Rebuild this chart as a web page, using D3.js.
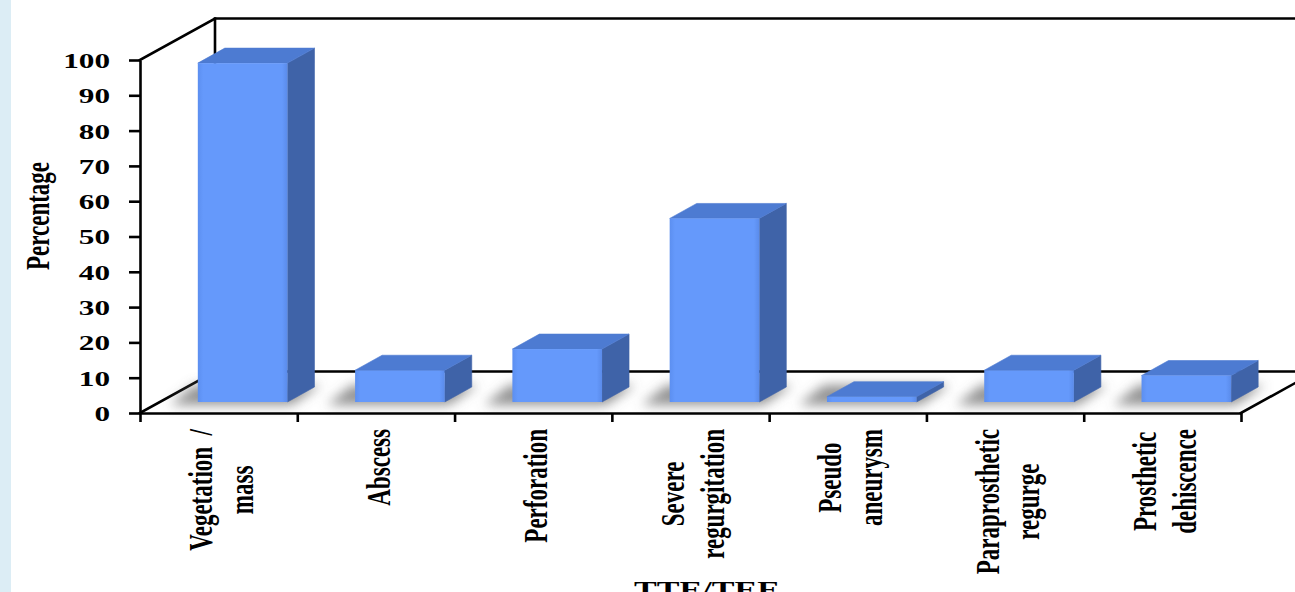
<!DOCTYPE html>
<html>
<head>
<meta charset="utf-8">
<script src="https://cdn.jsdelivr.net/npm/d3@7/dist/d3.min.js"></script>
<style>
  html, body { margin: 0; padding: 0; background: #ffffff; overflow: hidden; }
  svg { display: block; }
  text { font-family: "Liberation Serif", "Times New Roman", serif; font-weight: bold; fill: #000; }
</style>
</head>
<body>
<svg id="chart" width="1295" height="592"></svg>
<script>
// Findings by echocardiography (percent of cases)
const categories = [
  ["Vegetation  /", "mass"],
  ["Abscess"],
  ["Perforation"],
  ["Severe", "regurgitation"],
  ["Pseudo", "aneurysm"],
  ["Paraprosthetic", "regurge"],
  ["Prosthetic", "dehiscence"]
];
const values = [96, 9, 15, 52, 1.5, 9, 7.5];
const yTicks = [0, 10, 20, 30, 40, 50, 60, 70, 80, 90, 100];
const xTitle = "TTE/TEE";
const yTitle = "Percentage";

const svg = d3.select("#chart");
const W = 1295, H = 592;

// plot box (front plane) and oblique depth of the floor/walls
const plotLeft = 140, plotRight = 1241, plotBottom = 413, plotTop = 60;
const depthX = 75, depthY = -41.5;
// bar placement inside the depth
const barFrontX = 24, barFrontY = -11;
const barDepthX = 27, barDepthY = -15;
const textScaleX = 1.42;

const keys = categories.map((c, i) => i);
const x = d3.scaleBand().domain(keys).range([plotLeft, plotRight]).padding(0);
const xEdge = d3.scaleLinear().domain([0, categories.length]).range([plotLeft, plotRight]);
const y = d3.scaleLinear().domain([0, 100]).range([plotBottom, plotTop]);

// page edge strip
svg.append("rect").attr("x", 0).attr("y", 0).attr("width", 11).attr("height", H)
  .attr("fill", "#dcedf5");

const defs = svg.append("defs");
defs.append("filter").attr("id", "soft").attr("x", "-50%").attr("y", "-100%")
  .attr("width", "200%").attr("height", "300%")
  .append("feGaussianBlur").attr("stdDeviation", 6);
const frontGrad = defs.append("linearGradient").attr("id", "frontGrad")
  .attr("x1", 0).attr("x2", 1).attr("y1", 0).attr("y2", 0);
frontGrad.append("stop").attr("offset", 0).attr("stop-color", "#5c8ff0");
frontGrad.append("stop").attr("offset", 0.06).attr("stop-color", "#6599fb");
frontGrad.append("stop").attr("offset", 0.94).attr("stop-color", "#6599fb");
frontGrad.append("stop").attr("offset", 1).attr("stop-color", "#5a8bea");

const lineStyle = sel => sel.attr("stroke", "#000").attr("stroke-width", 2.6)
  .attr("fill", "none").attr("stroke-linecap", "square");

// walls and floor outline
const frame = svg.append("g");
const y0 = y(0), y100 = y(100);
frame.append("path").call(lineStyle).attr("d", d3.line()([
  [plotLeft, y100], [plotLeft + depthX, y100 + depthY], [W + 10, y100 + depthY]
]));
frame.append("path").call(lineStyle).attr("d", d3.line()([
  [plotLeft + depthX, y100 + depthY], [plotLeft + depthX, y0 + depthY]
]));
frame.append("path").call(lineStyle).attr("d", d3.line()([
  [plotLeft, y0], [plotLeft + depthX, y0 + depthY], [W + 10, y0 + depthY]
]));
frame.append("path").call(lineStyle).attr("d", d3.line()([
  [plotRight, y0], [plotRight + depthX, y0 + depthY]
]));

// shadows cast on the floor
const shadows = svg.append("g").attr("filter", "url(#soft)");
// bars
const bars = svg.append("g");

values.forEach((v, i) => {
  const cx = x(i) + x.bandwidth() / 2;
  const bw = x.bandwidth() * 0.57;
  const x0 = cx + barFrontX - bw / 2, x1 = x0 + bw;
  const yb = y(0) + barFrontY, yt = y(v) + barFrontY;

  shadows.append("path")
    .attr("d", d3.line()([
      [x0 - 28, yb + 3], [x1 + 4, yb + 3],
      [x1 + barDepthX + 6, yb + barDepthY - 2], [x0 + barDepthX - 30, yb + barDepthY - 2]
    ]) + "Z")
    .attr("fill", "#6f6f6f").attr("opacity", 0.75);

  const b = bars.append("g");
  // side face
  b.append("path").attr("d", d3.line()([
    [x1, yt], [x1 + barDepthX, yt + barDepthY], [x1 + barDepthX, yb + barDepthY], [x1, yb]
  ]) + "Z").attr("fill", "#3f63a8").attr("stroke", "#3f63a8").attr("stroke-width", 0.6)
    .attr("stroke-linejoin", "round");
  // top face
  b.append("path").attr("d", d3.line()([
    [x0, yt], [x1, yt], [x1 + barDepthX, yt + barDepthY], [x0 + barDepthX, yt + barDepthY]
  ]) + "Z").attr("fill", "#4d7bd2").attr("stroke", "#4d7bd2").attr("stroke-width", 0.6)
    .attr("stroke-linejoin", "round");
  // front face
  b.append("rect").attr("x", x0).attr("y", yt).attr("width", bw).attr("height", yb - yt)
    .attr("fill", "url(#frontGrad)");
});

// y axis
const yAxis = svg.append("g").attr("transform", `translate(${plotLeft},0)`)
  .call(d3.axisLeft(y).tickValues(yTicks).tickSize(11).tickSizeOuter(0).tickFormat(d3.format("d")));
yAxis.select(".domain").attr("stroke", "#000").attr("stroke-width", 2.6);
yAxis.selectAll(".tick line").attr("stroke", "#000").attr("stroke-width", 2.6);
yAxis.selectAll(".tick text")
  .attr("x", 0).attr("dy", "0.34em")
  .attr("transform", `translate(-30,0) scale(${textScaleX},1)`)
  .style("font-size", "22px").style("font-family", "'Liberation Serif', serif")
  .style("font-weight", "bold").attr("fill", "#000");

// x axis (tick marks at category boundaries)
const xAxis = svg.append("g").attr("transform", `translate(0,${plotBottom})`)
  .call(d3.axisBottom(xEdge).tickValues(d3.range(categories.length + 1))
    .tickSize(9).tickSizeOuter(0).tickFormat(""));
xAxis.select(".domain").attr("stroke", "#000").attr("stroke-width", 2.6);
xAxis.selectAll(".tick line").attr("stroke", "#000").attr("stroke-width", 2.6);

// category labels, rotated
const labelTop = 429, lineStep = 28.5;
categories.forEach((lines, i) => {
  const cx = x(i) + x.bandwidth() / 2 + 2;
  const g = svg.append("g");
  const texts = lines.map((t, k) => g.append("text")
    .attr("xml:space", "preserve").style("white-space", "pre")
    .style("font-size", "23px").attr("text-anchor", "middle")
    .attr("dy", "0.36em")
    .attr("y", (k - (lines.length - 1) / 2) * lineStep)
    .text(t));
  const maxLen = d3.max(texts, t => t.node().getComputedTextLength());
  g.attr("transform", `translate(${cx},${labelTop + maxLen / 2}) scale(${textScaleX},1) rotate(-90)`);
});

// axis titles
svg.append("text")
  .attr("transform", `translate(37,216) scale(${textScaleX},1) rotate(-90)`)
  .attr("text-anchor", "middle").attr("dy", "0.36em")
  .style("font-size", "23px").text(yTitle);

svg.append("text")
  .attr("transform", `translate(707,597) scale(${textScaleX},1)`)
  .attr("text-anchor", "middle")
  .style("font-size", "24px").text(xTitle);
</script>
</body>
</html>
